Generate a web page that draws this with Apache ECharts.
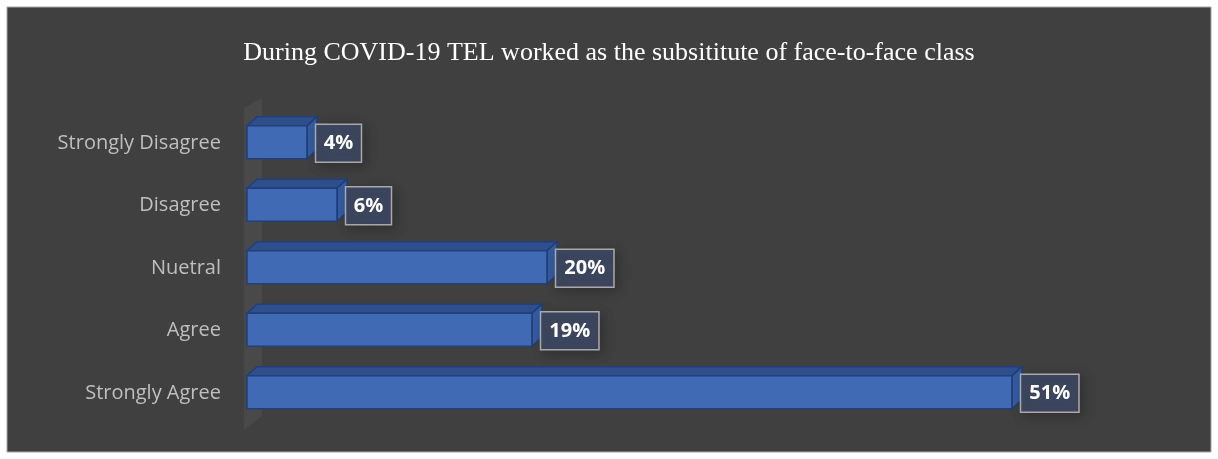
<!DOCTYPE html>
<html><head><meta charset="utf-8">
<script src="https://cdn.jsdelivr.net/npm/echarts@6/dist/echarts.min.js"></script>
<style>html,body{margin:0;padding:0;background:#fff}#c{width:1218px;height:459px}</style>
</head><body><div id="c"></div>
<script>
var titleText = 'During COVID-19 TEL worked as the subsititute of face-to-face class';
var categories = ['Strongly Disagree', 'Disagree', 'Nuetral', 'Agree', 'Strongly Agree'];
var values = [4, 6, 20, 19, 51];
var valueLabels = ['4%', '6%', '20%', '19%', '51%'];

var chart = echarts.init(document.getElementById('c'));
var DX = 10, DY = 9, H = 33;
function renderItem(params, api) {
  var cat = api.value(0), v = api.value(1);
  var p0 = api.coord([0, cat]);
  var p1 = api.coord([v, cat]);
  var yc = p0[1] - 1;
  var x0 = p0[0], x1 = p1[0], yt = yc - H / 2, yb = yc + H / 2;
  var edge = '#213f78';
  var lbl = valueLabels[params.dataIndex];
  var bw = lbl.length * 12.5 + 21;
  return {
    type: 'group',
    children: [
      { type: 'polygon', shape: { points: [[x0, yt], [x1, yt], [x1 + DX, yt - DY], [x0 + DX, yt - DY]] },
        style: { fill: '#2f4f8c', stroke: edge, lineWidth: 1.5 } },
      { type: 'polygon', shape: { points: [[x1, yt], [x1 + DX, yt - DY], [x1 + DX, yb - DY], [x1, yb]] },
        style: { fill: '#355ca3', stroke: edge, lineWidth: 1.5 } },
      { type: 'rect', shape: { x: x0, y: yt, width: x1 - x0, height: H },
        style: { fill: '#416ab4', stroke: edge, lineWidth: 1.5 } },
      { type: 'rect', shape: { x: x1 + 8.5, y: yc - 18, width: bw, height: 38 },
        style: { fill: 'rgba(62,76,106,0.8)', stroke: '#a9a9a9', lineWidth: 1.5,
                 shadowBlur: 12, shadowColor: 'rgba(0,0,0,0.3)', shadowOffsetX: 3, shadowOffsetY: 3 } },
      { type: 'text', style: { x: x1 + 8.5 + bw / 2, y: yc + 1.5, text: lbl, fill: '#ffffff',
          font: 'bold 20px "Open Sans", sans-serif', align: 'center', verticalAlign: 'middle' } }
    ]
  };
}
chart.setOption({
  backgroundColor: '#ffffff',
  animation: false,
  graphic: [
    { type: 'rect', z: -10, shape: { x: 7, y: 7, width: 1204, height: 445 },
      style: { fill: '#404040', stroke: '#a6a6a6', lineWidth: 1 } },
    { type: 'polygon', z: -9, shape: { points: [[244, 108], [262, 98], [262, 416], [244, 430]] },
      style: { fill: '#494949' } }
  ],
  title: { text: titleText, left: 'center', top: 35,
    textStyle: { color: '#ffffff', fontFamily: 'Liberation Serif', fontWeight: 'normal', fontSize: 26 } },
  grid: { left: 247, right: 71, top: 112, bottom: 459 - 424.5 },
  xAxis: { type: 'value', min: 0, max: 60, show: false },
  yAxis: { type: 'category', data: categories, inverse: true,
    axisLine: { show: false }, axisTick: { show: false },
    axisLabel: { color: '#bfbfbf', fontFamily: 'Open Sans', fontSize: 20, margin: 26 } },
  series: [{ type: 'custom', renderItem: renderItem, encode: { x: 1, y: 0 },
    data: values.map(function (v, i) { return [i, v]; }) }]
});
</script></body></html>
